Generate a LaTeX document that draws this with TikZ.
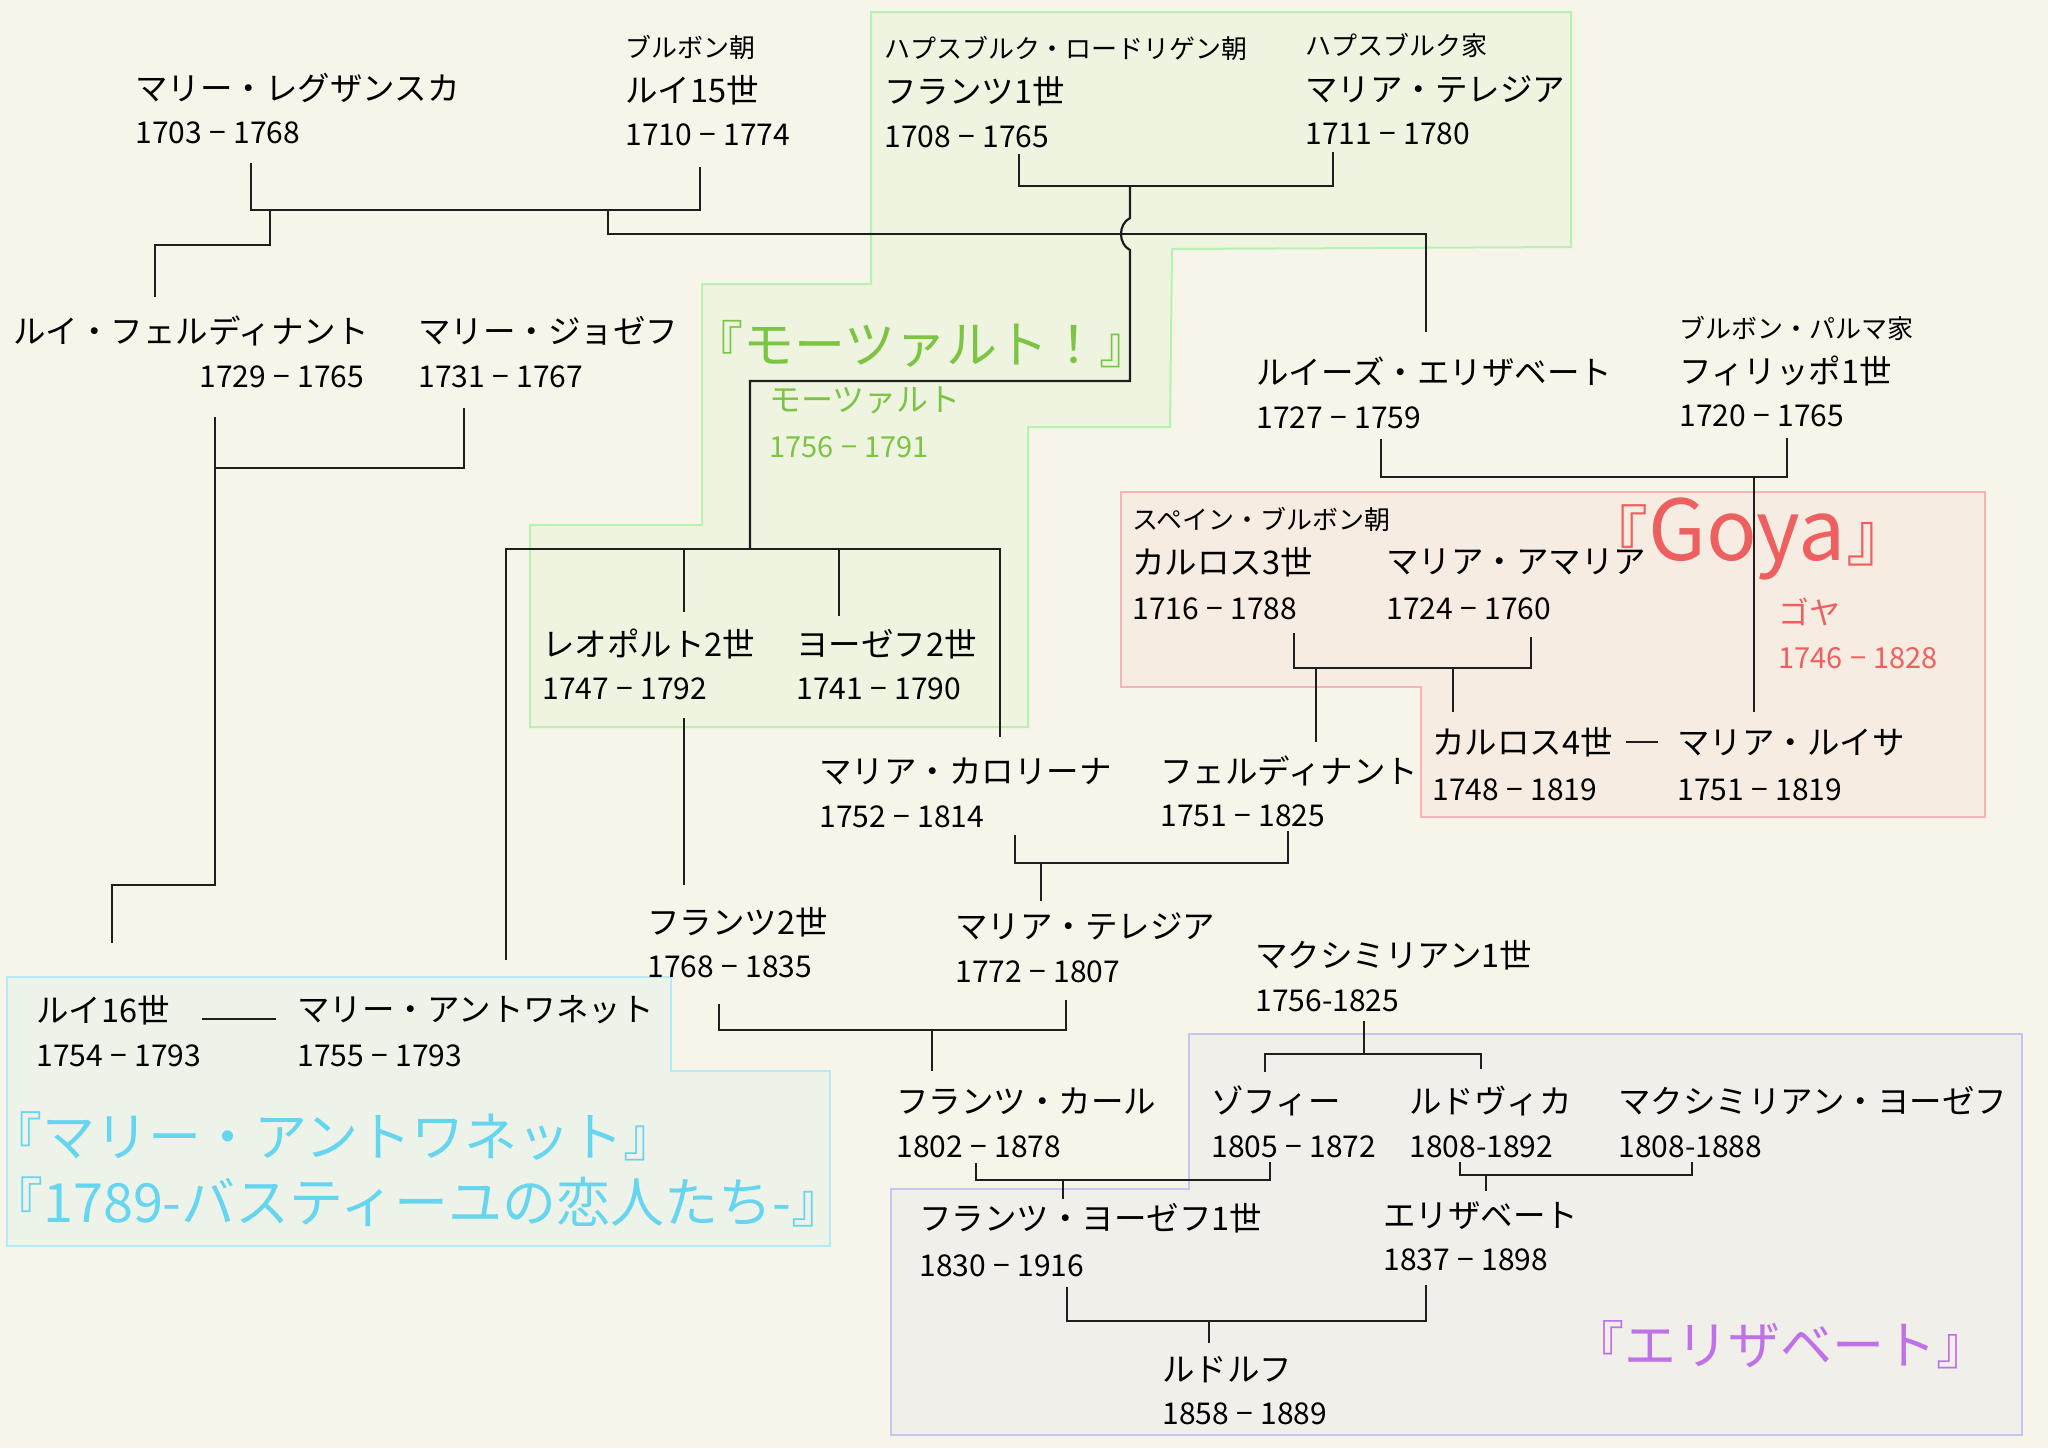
\documentclass[tikz,border=0pt]{standalone}
\usepackage{fontspec}
\setmainfont{Noto Sans CJK JP}
\newcommand{\ydsh}{\hspace{0.25em}−\hspace{0.25em}}
\definecolor{bgc}{HTML}{F7F5EA}
\definecolor{grfill}{HTML}{EFF4E0}
\definecolor{grline}{HTML}{B8F2B0}
\definecolor{grtext}{HTML}{7CC443}
\definecolor{rdfill}{HTML}{F6ECE1}
\definecolor{rdline}{HTML}{F5B5B5}
\definecolor{rdtext}{HTML}{EE6060}
\definecolor{cyfill}{HTML}{EEF3EA}
\definecolor{cyline}{HTML}{B5EAF7}
\definecolor{cytext}{HTML}{66D5EF}
\definecolor{blfill}{HTML}{F0EFEA}
\definecolor{blline}{HTML}{C5C5F2}
\definecolor{pptext}{HTML}{C070E8}
\definecolor{linec}{HTML}{1E1E1E}
\begin{document}
\begin{tikzpicture}[x=0.5pt,y=-0.5pt,
  txt/.style={anchor=west,inner sep=0pt,text=black},
  pname/.style={txt,font={\fontsize{16.25pt}{19pt}\selectfont}},
  pyear/.style={txt,font={\fontsize{15pt}{17pt}\selectfont}},
  pdyn/.style={txt,font={\fontsize{13pt}{15pt}\selectfont}},
  conn/.style={line width=1.1pt,draw=linec},
  area/.style={line width=1pt}]
\fill[bgc] (0,0) rectangle (2048,1448);
\useasboundingbox (0,0) rectangle (2048,1448);
% areas
\filldraw[area,fill=grfill,draw=grline] (871,12) -- (1571,12) -- (1571,247) -- (1172,249) -- (1170,427) -- (1028,427) -- (1028,727) -- (530,727) -- (530,525) -- (702,525) -- (702,284) -- (871,284) -- cycle;
\filldraw[area,fill=rdfill,draw=rdline] (1121,492) -- (1985,492) -- (1985,817) -- (1421,817) -- (1421,687) -- (1121,687) -- cycle;
\filldraw[area,fill=cyfill,draw=cyline] (7,977) -- (671,977) -- (671,1071) -- (830,1071) -- (830,1246) -- (7,1246) -- cycle;
\filldraw[area,fill=blfill,draw=blline] (1189,1034) -- (2022,1034) -- (2022,1435) -- (891,1435) -- (891,1189) -- (1189,1189) -- cycle;
% titles
\node[txt,text=grtext,font={\fontsize{25.5pt}{28pt}\selectfont}] (tmoz) at (715,344) {\hspace*{-0.45em}『モーツァルト！』};
\node[txt,text=rdtext,anchor=base west] (tgoya) at (1582,560) {{\fontsize{33pt}{36pt}\selectfont 『}{\fontsize{42pt}{46pt}\selectfont Goya}{\fontsize{33pt}{36pt}\selectfont 』}};
\node[txt,text=cytext,font={\fontsize{26.5pt}{30pt}\selectfont}] (tma) at (13,1136) {\hspace*{-0.45em}『マリー・アントワネット』};
\node[txt,text=cytext,font={\fontsize{27pt}{30pt}\selectfont}] (tbas) at (13,1202) {\hspace*{-0.45em}『1789-バスティーユの恋人たち-』};
\node[txt,text=pptext,font={\fontsize{26pt}{29pt}\selectfont}] (teli) at (1595,1345) {\hspace*{-0.45em}『エリザベート』};
% people
\node[pname] (lesz) at (135,88) {マリー・レグザンスカ};
\node[pyear] (leszy) at (135,133) {1703\ydsh1768};
\node[pdyn] (bourbon) at (625,47) {ブルボン朝};
\node[pname] (l15) at (625,90) {ルイ15世};
\node[pyear] (l15y) at (625,135) {1710\ydsh1774};
\node[pdyn] (hlor) at (884,48) {ハプスブルク・ロードリゲン朝};
\node[pname] (f1) at (884,91) {フランツ1世};
\node[pyear] (f1y) at (884,137) {1708\ydsh1765};
\node[pdyn] (hab) at (1305,45) {ハプスブルク家};
\node[pname] (mt) at (1305,89) {マリア・テレジア};
\node[pyear] (mty) at (1305,134) {1711\ydsh1780};
\node[pname] (lf) at (13,331) {ルイ・フェルディナント};
\node[pyear] (lfy) at (199,377) {1729\ydsh1765};
\node[pname] (mj) at (418,331) {マリー・ジョゼフ};
\node[pyear] (mjy) at (418,377) {1731\ydsh1767};
\node[txt,text=grtext,font={\fontsize{16pt}{18pt}\selectfont}] (moz) at (769,400) {モーツァルト};
\node[txt,text=grtext,font={\fontsize{14.5pt}{17pt}\selectfont}] (mozy) at (769,447) {1756\ydsh1791};
\node[pname] (le) at (1256,372) {ルイーズ・エリザベート};
\node[pyear] (ley) at (1256,418) {1727\ydsh1759};
\node[pdyn] (bparma) at (1679,328) {ブルボン・パルマ家};
\node[pname] (ph) at (1679,371) {フィリッポ1世};
\node[pyear] (phy) at (1679,416) {1720\ydsh1765};
\node[pdyn] (sbour) at (1132,519) {スペイン・ブルボン朝};
\node[pname] (c3) at (1132,562) {カルロス3世};
\node[pyear] (c3y) at (1132,609) {1716\ydsh1788};
\node[pname] (ma) at (1386,562) {マリア・アマリア};
\node[pyear] (may) at (1386,609) {1724\ydsh1760};
\node[txt,text=rdtext,font={\fontsize{15.5pt}{18pt}\selectfont}] (goya) at (1778,612) {ゴヤ};
\node[txt,text=rdtext,font={\fontsize{14.5pt}{17pt}\selectfont}] (goyay) at (1778,658) {1746\ydsh1828};
\node[pname] (c4) at (1432,742) {カルロス4世};
\node[pyear] (c4y) at (1432,790) {1748\ydsh1819};
\node[pname] (ml) at (1677,742) {マリア・ルイサ};
\node[pyear] (mly) at (1677,790) {1751\ydsh1819};
\node[pname] (leo) at (542,644) {レオポルト2世};
\node[pyear] (leoy) at (542,689) {1747\ydsh1792};
\node[pname] (jo2) at (796,644) {ヨーゼフ2世};
\node[pyear] (jo2y) at (796,689) {1741\ydsh1790};
\node[pname] (mc) at (819,771) {マリア・カロリーナ};
\node[pyear] (mcy) at (819,817) {1752\ydsh1814};
\node[pname] (fe) at (1160,771) {フェルディナント};
\node[pyear] (fey) at (1160,816) {1751\ydsh1825};
\node[pname] (f2) at (647,922) {フランツ2世};
\node[pyear] (f2y) at (647,967) {1768\ydsh1835};
\node[pname] (mt2) at (955,926) {マリア・テレジア};
\node[pyear] (mt2y) at (955,972) {1772\ydsh1807};
\node[pname] (mx1) at (1255,955) {マクシミリアン1世};
\node[pyear] (mx1y) at (1255,1001) {1756-1825};
\node[pname] (l16) at (36,1010) {ルイ16世};
\node[pyear] (l16y) at (36,1056) {1754\ydsh1793};
\node[pname] (mant) at (297,1010) {マリー・アントワネット};
\node[pyear] (manty) at (297,1056) {1755\ydsh1793};
\node[pname] (fk) at (896,1101) {フランツ・カール};
\node[pyear] (fky) at (896,1147) {1802\ydsh1878};
\node[pname] (so) at (1211,1101) {ゾフィー};
\node[pyear] (soy) at (1211,1147) {1805\ydsh1872};
\node[pname] (lu) at (1409,1101) {ルドヴィカ};
\node[pyear] (luy) at (1409,1147) {1808-1892};
\node[pname] (mxj) at (1618,1101) {マクシミリアン・ヨーゼフ};
\node[pyear] (mxjy) at (1618,1147) {1808-1888};
\node[pname] (fj) at (919,1218) {フランツ・ヨーゼフ1世};
\node[pyear] (fjy) at (919,1266) {1830\ydsh1916};
\node[pname] (el) at (1383,1216) {エリザベート};
\node[pyear] (ely) at (1383,1260) {1837\ydsh1898};
\node[pname] (ru) at (1162,1370) {ルドルフ};
\node[pyear] (ruy) at (1162,1414) {1858\ydsh1889};
% connector end points
\coordinate (a1) at (251,163); \coordinate (a2) at (700,167);
\coordinate (a3) at (270,210); \coordinate (a4) at (155,297);
\coordinate (b1) at (608,210); \coordinate (b2) at (1426,332);
\coordinate (c1) at (1019,154); \coordinate (c2) at (1333,152);
\coordinate (c3a) at (1130,186); \coordinate (c3b) at (1130,218); \coordinate (c3c) at (1130,250);
\coordinate (d1) at (750,381); \coordinate (d2) at (506,960); \coordinate (d3) at (1000,737);
\coordinate (d4) at (684,612); \coordinate (d5) at (839,616);
\coordinate (e1) at (215,417); \coordinate (e2) at (464,408); \coordinate (e3) at (112,943);
\coordinate (f1a) at (1381,439); \coordinate (f1b) at (1787,438); \coordinate (f1c) at (1754,712);
\coordinate (g1) at (1294,633); \coordinate (g2) at (1531,637); \coordinate (g3) at (1316,742); \coordinate (g4) at (1453,712);
\coordinate (h1) at (684,718); \coordinate (h2) at (684,885);
\coordinate (i1) at (1015,835); \coordinate (i2) at (1288,831); \coordinate (i3) at (1041,901);
\coordinate (j1) at (719,1004); \coordinate (j2) at (1066,1000); \coordinate (j3) at (932,1071);
\coordinate (k1) at (1364,1021); \coordinate (k2) at (1265,1072); \coordinate (k3) at (1481,1069);
\coordinate (m1) at (976,1163); \coordinate (m2) at (1270,1162); \coordinate (m3) at (1063,1199);
\coordinate (n1) at (1460,1162); \coordinate (n2) at (1692,1162); \coordinate (n3) at (1486,1191);
\coordinate (o1) at (1067,1287); \coordinate (o2) at (1426,1285); \coordinate (o3) at (1209,1343);
% connectors
\draw[conn] (a1) -- (251,210) -- (700,210) -- (a2);
\draw[conn] (a3) -- (270,245) -- (155,245) -- (a4);
\draw[conn] (b1) -- (608,234) -- (1426,234) -- (b2);
\draw[conn] (c1) -- (1019,186) -- (1333,186) -- (c2);
\draw[conn] (c3a) -- (c3b) .. controls (1118,224) and (1118,244) .. (c3c) -- (1130,381) -- (d1) -- (750,549);
\draw[conn] (d2) -- (506,549) -- (1000,549) -- (d3);
\draw[conn] (684,549) -- (d4);
\draw[conn] (839,549) -- (d5);
\draw[conn] (e1) -- (215,468) -- (464,468) -- (e2);
\draw[conn] (215,468) -- (215,885) -- (112,885) -- (e3);
\draw[conn] (f1a) -- (1381,477) -- (1787,477) -- (f1b);
\draw[conn] (1754,477) -- (f1c);
\draw[conn] (g1) -- (1294,668) -- (1531,668) -- (g2);
\draw[conn] (1316,668) -- (g3);
\draw[conn] (1453,668) -- (g4);
\draw[conn] (h1) -- (h2);
\draw[conn] (i1) -- (1015,863) -- (1288,863) -- (i2);
\draw[conn] (1041,863) -- (i3);
\draw[conn] (j1) -- (719,1030) -- (1066,1030) -- (j2);
\draw[conn] (932,1030) -- (j3);
\draw[conn] (k1) -- (1364,1054);
\draw[conn] (k2) -- (1265,1054) -- (1481,1054) -- (k3);
\draw[conn] (m1) -- (976,1180) -- (1270,1180) -- (m2);
\draw[conn] (1063,1180) -- (m3);
\draw[conn] (n1) -- (1460,1175) -- (1692,1175) -- (n2);
\draw[conn] (1486,1175) -- (n3);
\draw[conn] (o1) -- (1067,1321) -- (1426,1321) -- (o2);
\draw[conn] (1209,1321) -- (o3);
\draw[conn] ([xshift=16pt,yshift=-4.5pt]l16.east) -- ([xshift=-10.5pt,yshift=-4.5pt]mant.west);
\draw[line width=1.2pt,draw=linec] ([xshift=6.5pt]c4.east) -- ([xshift=-9.5pt]ml.west);
\end{tikzpicture}
\end{document}
